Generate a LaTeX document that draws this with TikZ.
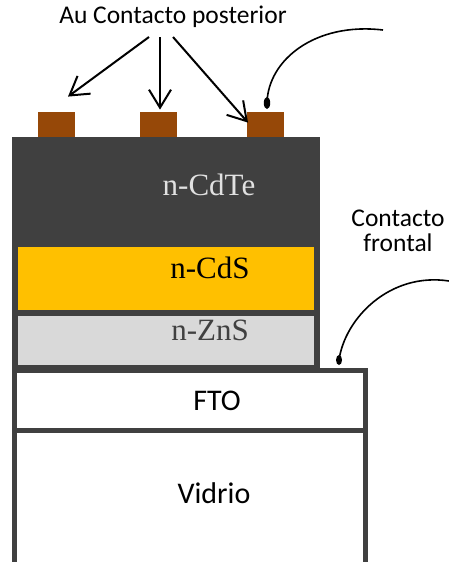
\documentclass[tikz,border=0pt]{standalone}
\usepackage{fontspec}
\setmainfont{Liberation Serif}
\newfontfamily\labelfont{Carlito}
\usetikzlibrary{arrows.meta}
\definecolor{darkfill}{RGB}{64,64,64}
\definecolor{cdsyellow}{RGB}{255,192,0}
\definecolor{znsgray}{RGB}{217,217,217}
\definecolor{aubrown}{RGB}{150,72,8}
\definecolor{cdtetext}{RGB}{225,225,225}
\tikzset{
  contactbox/.style={fill=aubrown, draw=none, minimum width=37pt, minimum height=25pt, inner sep=0pt, anchor=south west},
  labeltext/.style={font=\labelfont\fontsize{25.5}{28}\selectfont, inner sep=0pt},
  layerlabel/.style={font=\labelfont\fontsize{30}{34}\selectfont, inner sep=0pt},
  layertext/.style={font=\fontsize{31}{34}\selectfont, inner sep=0pt},
  pointer/.style={line width=2pt, -{Straight Barb[length=18pt,width=22pt,line width=2pt]}},
  wire/.style={line width=1.6pt},
  framebox/.style={draw=darkfill, line width=5pt}
}
\begin{document}
\begin{tikzpicture}[x=1pt,y=-1pt]
\useasboundingbox (0,0) rectangle (448,562);
% glass and FTO
\draw[framebox, fill=white] (14.5,430) rectangle (365.5,570);
\draw[framebox, fill=white] (14.5,370) rectangle (365.5,430);
% absorber stack
\fill[darkfill] (12,137) rectangle (320,370);
\fill[cdsyellow] (18,247) rectangle (314,310);
\fill[znsgray] (18,316) rectangle (314,365);
% contacts
\node[contactbox] (c1) at (38,137) {};
\node[contactbox] (c2) at (140,137) {};
\node[contactbox] (c3) at (247,137) {};
% texts
\node[labeltext] (au) at (173,17) {Au Contacto posterior};
\node[labeltext, align=center] (front) at (398,231) {Contacto\\[-3pt]frontal};
\node[layertext, text=cdtetext] (cdte) at (209,185) {n-CdTe};
\node[layertext] (cds) at (210,268) {n-CdS};
\node[layertext, text=darkfill] (zns) at (210,330) {n-ZnS};
\node[layerlabel] (fto) at (217,401) {FTO};
\node[layerlabel] (vid) at (214,493) {Vidrio};
% arrows
\coordinate (a1) at (149,37);
\coordinate (a2) at (160,37);
\coordinate (a3) at (173,37);
\draw[pointer] (a1) -- ([xshift=30pt,yshift=15pt]c1.north west);
\draw[pointer] (a2) -- ([xshift=20pt,yshift=2pt]c2.north west);
\draw[pointer] (a3) -- ([xshift=1pt,yshift=-11pt]c3.north west);
% wires
\coordinate (w1) at (383,30);
\coordinate (d1) at (267,103);
\draw[wire] (w1) .. controls (315,22) and (268,60) .. (d1);
\fill (d1) ellipse (3.2pt and 6pt);
\coordinate (w2) at (449,281);
\coordinate (d2) at (339,360);
\draw[wire] (w2) .. controls (390,272) and (345,318) .. (d2);
\fill (d2) ellipse (3pt and 5pt);
\end{tikzpicture}
\end{document}
